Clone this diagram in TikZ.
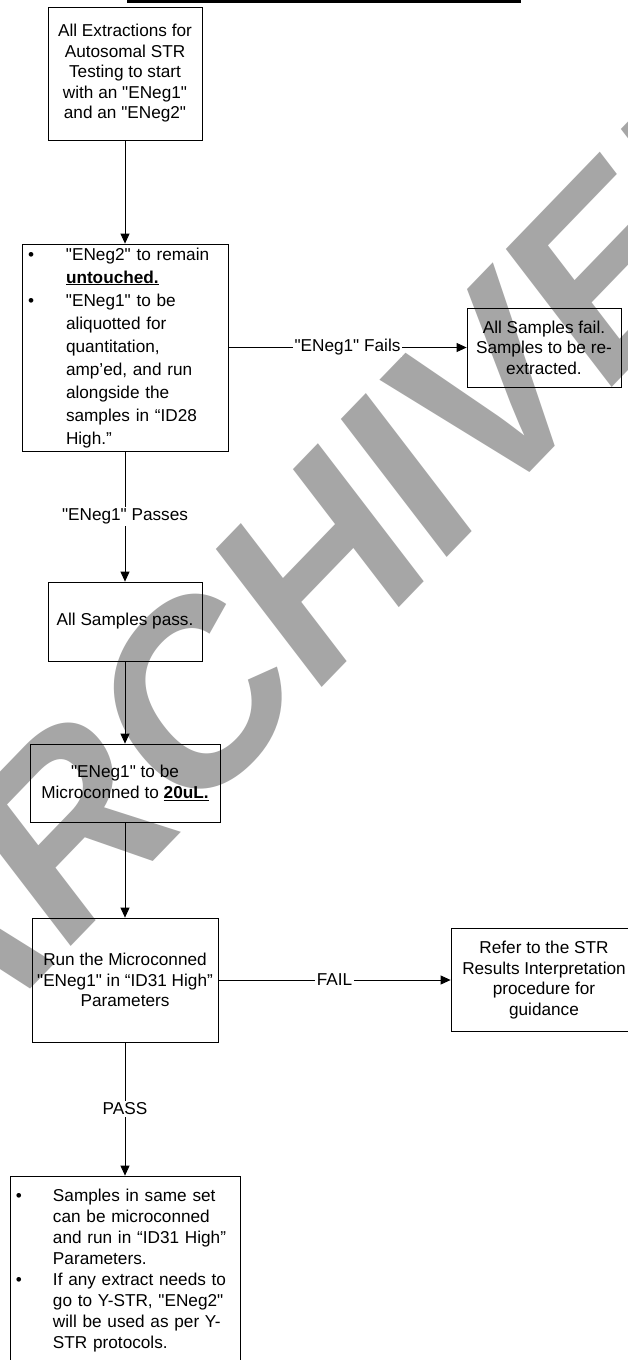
\documentclass[tikz,border=0pt]{standalone}
\usepackage{fontspec}
\setmainfont{Liberation Sans}[Ligatures=TeXOff]
\usetikzlibrary{arrows.meta}
\definecolor{wmgray}{RGB}{166,166,166}
\begin{document}
\begin{tikzpicture}[x=1pt,y=-1pt,
  box/.style={draw=black, line width=0.8pt, inner sep=0pt, align=center,
    font=\fontsize{17.2}{20.5}\selectfont},
  bulletbox/.style={box, align=left, inner xsep=6pt},
  lbl/.style={fill=white, inner sep=1.5pt, font=\fontsize{17.2}{20.5}\selectfont},
  flow/.style={draw=black, line width=0.8pt, -{Triangle[length=10pt,width=9pt]}},
  wm/.style={text=wmgray, inner sep=0pt,
    font=\fontsize{250}{250}\selectfont\bfseries}
]
\useasboundingbox (0,0) rectangle (628,1360);
\fill[white] (0,0) rectangle (628,1360);

% watermark behind the chart
\node[wm, rotate=46, xslant=0.15] (stamp) at (335,550) {ARCHIVED};

% heading rule
\fill[black] (127,0) rectangle (521,3);

% boxes
\node[box, minimum width=154pt, minimum height=133pt] (b1) at (125,73.5)
  {All Extractions for\\Autosomal STR\\Testing to start\\with an "ENeg1"\\and an "ENeg2"};

\node[bulletbox, text width=194pt, minimum height=207pt,
      font=\fontsize{17.2}{23}\selectfont] (b2) at (125,347.5)
  {\begin{tabular}{@{}p{38pt}@{}l@{}}
   \textbullet & "ENeg2" to remain\\
               & \underline{\textbf{untouched.}}\\
   \textbullet & "ENeg1" to be\\
               & aliquotted for\\
               & quantitation,\\
               & amp’ed, and run\\
               & alongside the\\
               & samples in “ID28\\
               & High.”
   \end{tabular}};

\node[box, minimum width=154pt, minimum height=79pt] (b3) at (544,347.5)
  {All Samples fail.\\Samples to be re-\\extracted.};

\node[box, minimum width=154pt, minimum height=79pt] (b4) at (125,621.5)
  {All Samples pass.};

\node[box, minimum width=190pt, minimum height=78pt] (b5) at (125,783)
  {"ENeg1" to be\\Microconned to \underline{\textbf{20uL.}}};

\node[box, minimum width=186pt, minimum height=124pt] (b6) at (125,980)
  {Run the Microconned\\"ENeg1" in “ID31 High”\\Parameters};

\node[box, minimum width=186pt, minimum height=103pt] (b7) at (544,980)
  {Refer to the STR\\Results Interpretation\\procedure for\\guidance};

\node[bulletbox, text width=218pt, minimum height=189pt,
      font=\fontsize{17.2}{21}\selectfont] (b8) at (125,1270.5)
  {\begin{tabular}{@{}p{37pt}@{}l@{}}
   \textbullet & Samples in same set\\
               & can be microconned\\
               & and run in “ID31 High”\\
               & Parameters.\\
   \textbullet & If any extract needs to\\
               & go to Y-STR, "ENeg2"\\
               & will be used as per Y-\\
               & STR protocols.
   \end{tabular}};

% connectors
\draw[flow] (b1) -- (b2);
\draw[flow] (b2) -- node[lbl] {"ENeg1" Fails} (b3);
\draw[flow] (b2) -- node[lbl] {"ENeg1" Passes} (b4);
\draw[flow] (b4) -- (b5);
\draw[flow] (b5) -- (b6);
\draw[flow] (b6) -- node[lbl] {FAIL} (b7);
\draw[flow] (b6) -- node[lbl] {PASS} (b8);
\end{tikzpicture}
\end{document}
